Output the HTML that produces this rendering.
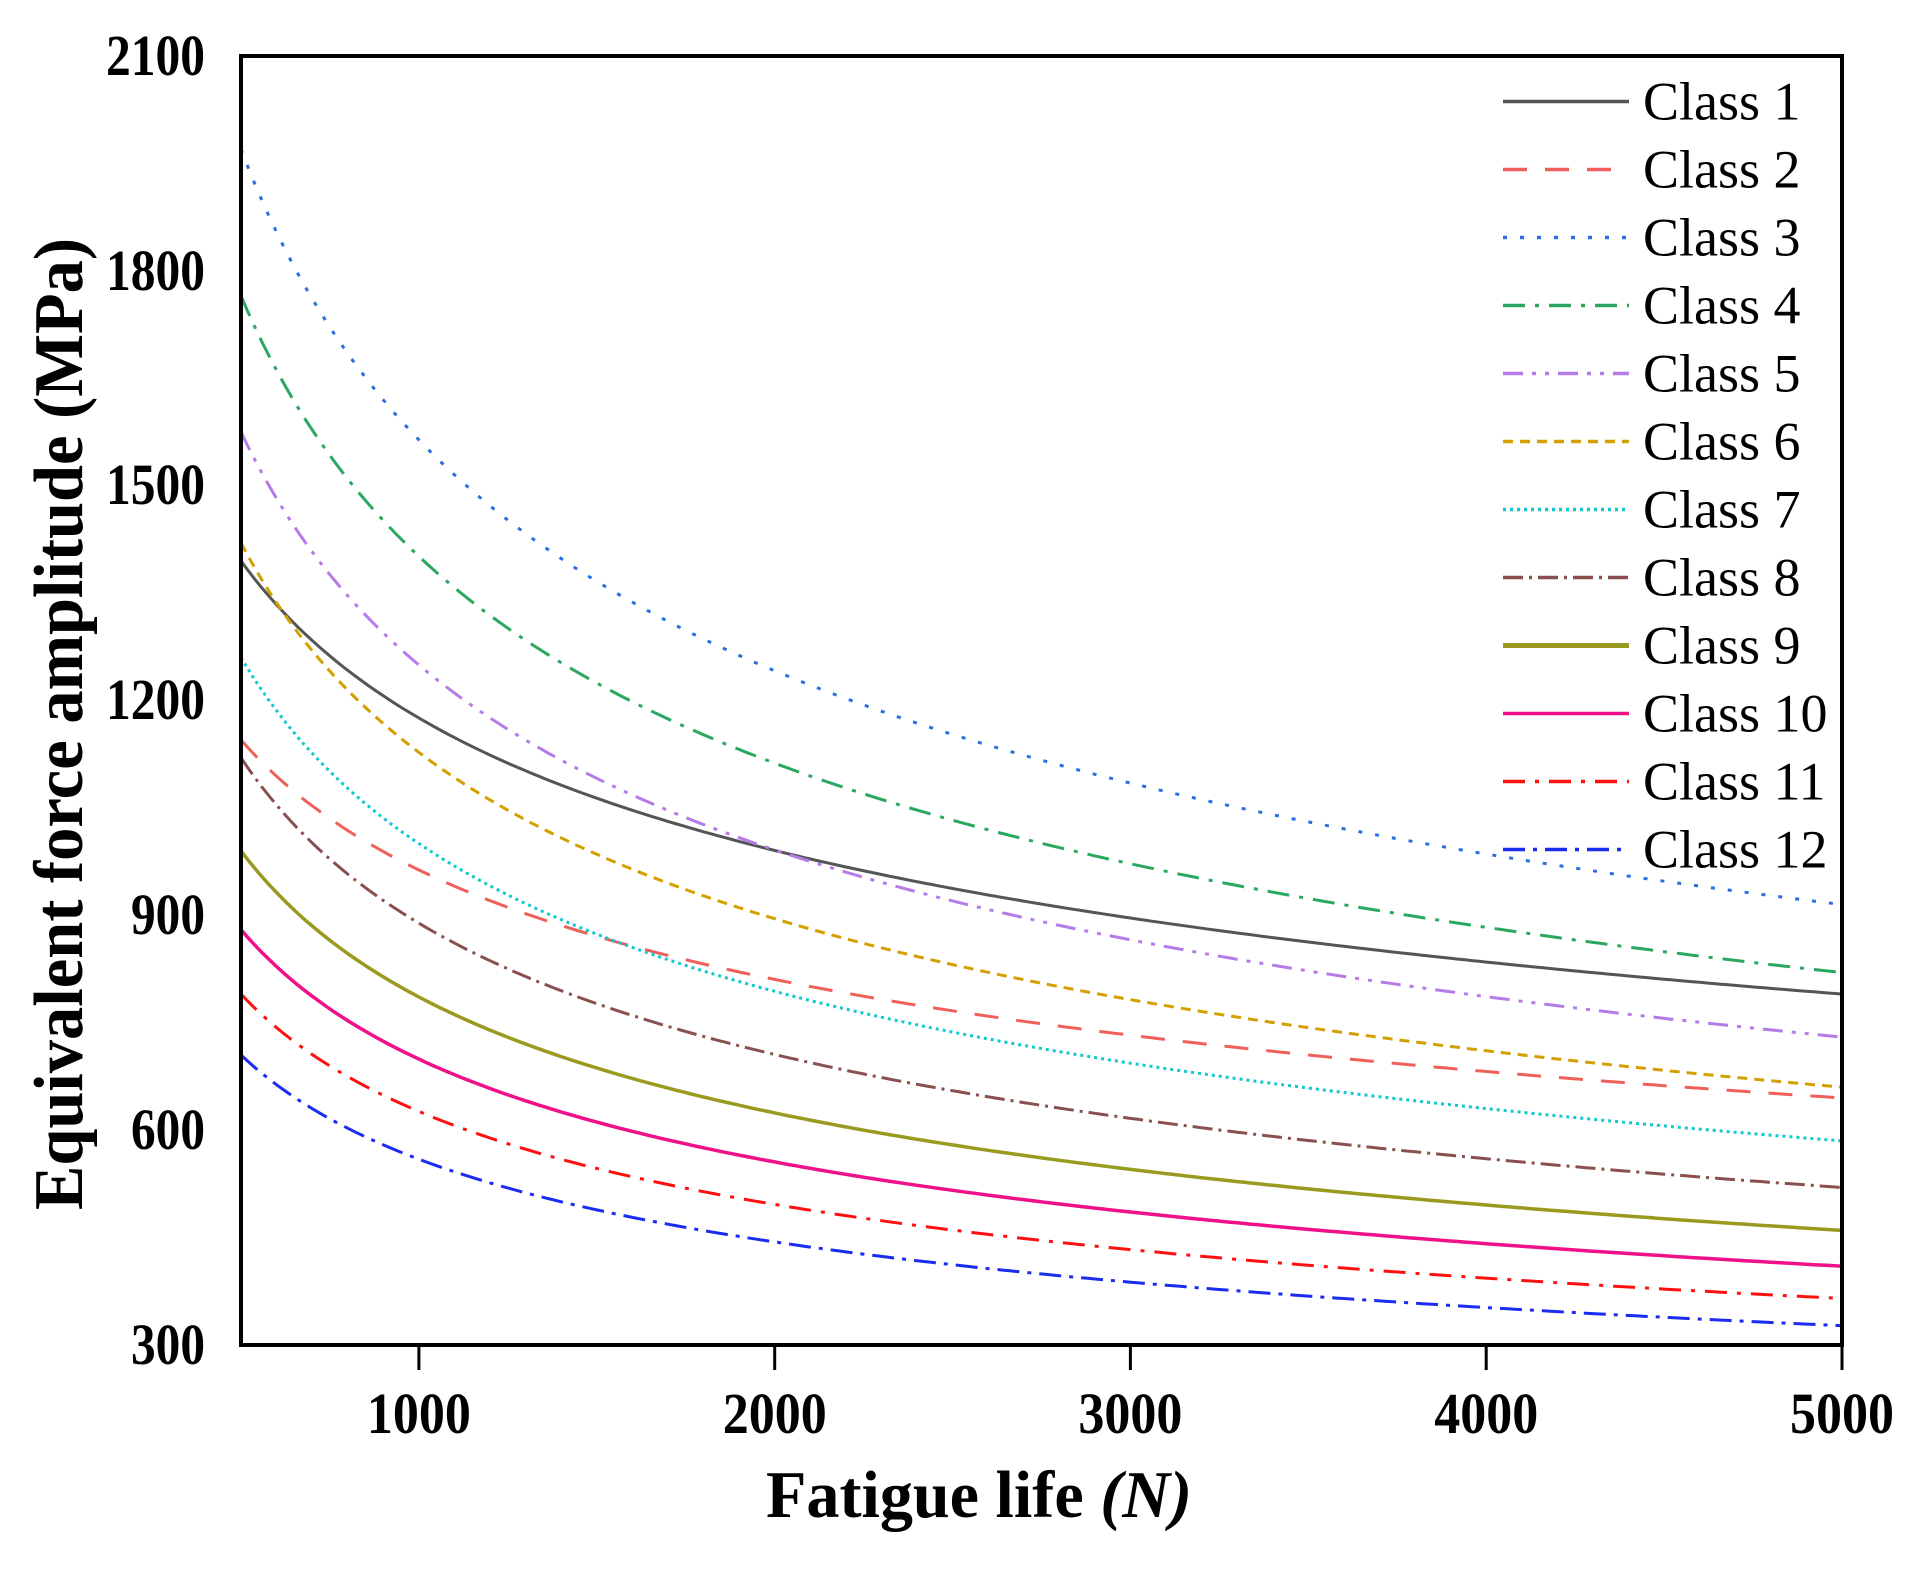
<!DOCTYPE html>
<html><head><meta charset="utf-8"><style>
html,body{margin:0;padding:0;background:#fff;}
svg text{font-family:"Liberation Serif",serif;}
</style></head><body>
<svg id="s" width="1917" height="1564" viewBox="0 0 1917 1564" xmlns="http://www.w3.org/2000/svg">
<rect width="1917" height="1564" fill="#fff"/>
<g id="curves" fill="none" stroke-width="3"></g>
<rect x="241" y="56" width="1601" height="1289" fill="none" stroke="#000" stroke-width="4"/>
<g stroke="#000" stroke-width="3">
<line x1="418.9" y1="1345" x2="418.9" y2="1370"/><line x1="774.7" y1="1345" x2="774.7" y2="1370"/>
<line x1="1130.4" y1="1345" x2="1130.4" y2="1370"/><line x1="1486.2" y1="1345" x2="1486.2" y2="1370"/>
<line x1="1842" y1="1345" x2="1842" y2="1370"/>
</g>
<g font-size="58" font-weight="bold" text-anchor="middle" lengthAdjust="spacingAndGlyphs">
<text x="418.9" y="1433" textLength="104" lengthAdjust="spacingAndGlyphs">1000</text>
<text x="774.7" y="1433" textLength="104" lengthAdjust="spacingAndGlyphs">2000</text>
<text x="1130.4" y="1433" textLength="104" lengthAdjust="spacingAndGlyphs">3000</text>
<text x="1486.2" y="1433" textLength="104" lengthAdjust="spacingAndGlyphs">4000</text>
<text x="1842" y="1433" textLength="104" lengthAdjust="spacingAndGlyphs">5000</text>
</g>
<g font-size="58" font-weight="bold" text-anchor="end">
<text x="205" y="1364" textLength="74" lengthAdjust="spacingAndGlyphs">300</text>
<text x="205" y="1149" textLength="74" lengthAdjust="spacingAndGlyphs">600</text>
<text x="205" y="934" textLength="74" lengthAdjust="spacingAndGlyphs">900</text>
<text x="205" y="719" textLength="99" lengthAdjust="spacingAndGlyphs">1200</text>
<text x="205" y="504" textLength="99" lengthAdjust="spacingAndGlyphs">1500</text>
<text x="205" y="290" textLength="99" lengthAdjust="spacingAndGlyphs">1800</text>
<text x="205" y="75" textLength="99" lengthAdjust="spacingAndGlyphs">2100</text>
</g>
<text x="979" y="1517" font-size="67" font-weight="bold" text-anchor="middle" textLength="426" lengthAdjust="spacingAndGlyphs">Fatigue life <tspan font-style="italic">(N)</tspan></text>
<text transform="translate(82,724) rotate(-90)" font-size="70" font-weight="bold" text-anchor="middle" textLength="972" lengthAdjust="spacingAndGlyphs">Equivalent force amplitude (MPa)</text>
<g id="legend" font-size="54"></g>
</svg>
<script>
var X0=241,SX=1601/4500,Y0=1345,SY=1289/1800;
function px(n){return X0+(n-500)*SX;} function py(v){return Y0-(v-300)*SY;}
var S=[
["#555",1395,790,""],
["#f0605a",1145,645,"24 18"],
["#2a6fe0",1970,915,"4 13"],
["#2aa860",1765,820,"22 10 4 10"],
["#b57ce8",1575,730,"20 9 4 9 4 9"],
["#d4a000",1420,660,"10 7"],
["#10c8d0",1260,585,"3 4"],
["#8a5050",1120,520,"20 6 3 6"],
["#9a9a20",990,460,""],
["#f0108a",880,410,""],
["#ff1010",790,365,"22 10 4 10"],
["#1a2cf0",705,327,"22 8 4 8"]];
var g=document.getElementById("curves"),L=document.getElementById("legend"),ns="http://www.w3.org/2000/svg";
S.forEach(function(s,i){
 var b=Math.log(s[2]/s[1])/Math.log(10),d="";
 for(var n=500;n<=5000;n+=20){var v=s[1]*Math.pow(n/500,b);d+=(n==500?"M":"L")+px(n).toFixed(1)+","+py(v).toFixed(1);}
 var p=document.createElementNS(ns,"path");p.setAttribute("d",d);p.setAttribute("stroke",s[0]);
 var w=(i==8||i==9)?3.5:3;p.setAttribute("stroke-width",w);
 if(s[3])p.setAttribute("stroke-dasharray",s[3]);g.appendChild(p);
 var y=101.5+i*68;
 var l=document.createElementNS(ns,"line");l.setAttribute("x1",1503);l.setAttribute("x2",1629);l.setAttribute("y1",y);l.setAttribute("y2",y);
 l.setAttribute("stroke",s[0]);l.setAttribute("stroke-width",(i==8)?5:3.5);if(s[3])l.setAttribute("stroke-dasharray",s[3]);L.appendChild(l);
 var t=document.createElementNS(ns,"text");t.setAttribute("x",1643);t.setAttribute("y",y+18);t.textContent="Class "+(i+1);L.appendChild(t);
});
</script>
</body></html>
